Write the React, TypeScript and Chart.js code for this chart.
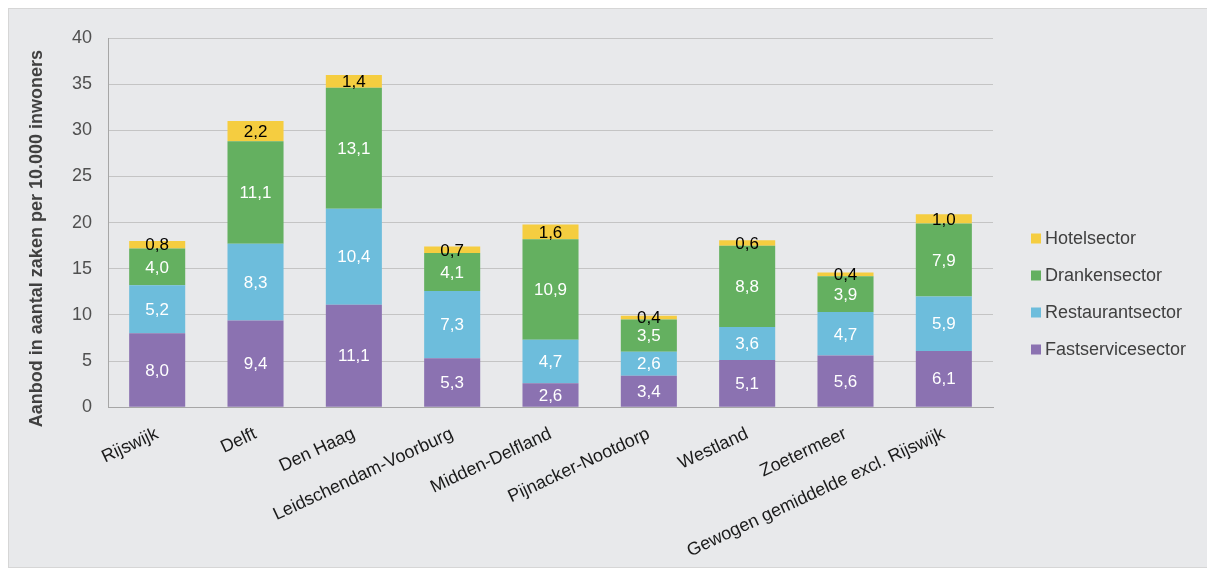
import React, { useEffect, useRef } from "react";
import { Chart, registerables } from "chart.js";

Chart.register(...registerables);

const categories = [
  "Rijswijk",
  "Delft",
  "Den Haag",
  "Leidschendam-Voorburg",
  "Midden-Delfland",
  "Pijnacker-Nootdorp",
  "Westland",
  "Zoetermeer",
  "Gewogen gemiddelde excl. Rijswijk",
];
const fastservice = [8.0, 9.4, 11.1, 5.3, 2.6, 3.4, 5.1, 5.6, 6.1];
const restaurant = [5.2, 8.3, 10.4, 7.3, 4.7, 2.6, 3.6, 4.7, 5.9];
const dranken = [4.0, 11.1, 13.1, 4.1, 10.9, 3.5, 8.8, 3.9, 7.9];
const hotel = [0.8, 2.2, 1.4, 0.7, 1.6, 0.4, 0.6, 0.4, 1.0];
const yTitle = "Aanbod in aantal zaken per 10.000 inwoners";

const FONT = "'Liberation Sans', Arial, sans-serif";

const labelPlugin = {
  id: "segLabels",
  afterDatasetsDraw(chart: any) {
    const ctx = chart.ctx;
    ctx.save();
    ctx.font = `17px ${FONT}`;
    ctx.textAlign = "center";
    ctx.textBaseline = "middle";
    chart.data.datasets.forEach((ds: any, di: number) => {
      const meta = chart.getDatasetMeta(di);
      if (meta.hidden) return;
      meta.data.forEach((bar: any, i: number) => {
        const v = ds.data[i];
        const p = bar.getProps(["x", "y", "base"], true);
        ctx.fillStyle = ds.labelColor;
        ctx.fillText(v.toFixed(1).replace(".", ","), p.x, (p.y + p.base) / 2 + 1);
      });
    });
    ctx.restore();
  },
};

const legendPlugin = {
  id: "sideLegend",
  afterDraw(chart: any) {
    const ctx = chart.ctx;
    const area = chart.chartArea;
    const items = chart.data.datasets.slice().reverse();
    const spacing = 37;
    const x = area.right + 38;
    const cy = chart.height / 2 + 6;
    const y0 = cy - ((items.length - 1) * spacing) / 2;
    ctx.save();
    ctx.font = `18px ${FONT}`;
    ctx.textBaseline = "middle";
    ctx.textAlign = "left";
    items.forEach((ds: any, i: number) => {
      const y = y0 + i * spacing;
      ctx.fillStyle = ds.backgroundColor;
      ctx.fillRect(x, y - 5, 10, 10);
      ctx.fillStyle = "#404040";
      ctx.fillText(ds.label, x + 14, y + 1);
    });
    ctx.restore();

    // y-axis title
    ctx.save();
    ctx.font = `bold 18px ${FONT}`;
    ctx.fillStyle = "#404040";
    ctx.textAlign = "center";
    ctx.textBaseline = "middle";
    ctx.translate(28, (area.top + area.bottom) / 2 + 16);
    ctx.rotate(-Math.PI / 2);
    ctx.fillText(yTitle, 0, 0);
    ctx.restore();
  },
};

export default function App() {
  const ref = useRef<HTMLCanvasElement>(null);
  useEffect(() => {
    const chart = new Chart(ref.current!, {
      type: "bar",
      data: {
        labels: categories,
        datasets: [
          { label: "Fastservicesector", data: fastservice, backgroundColor: "#8B72B1", labelColor: "#ffffff" } as any,
          { label: "Restaurantsector", data: restaurant, backgroundColor: "#6DBDDC", labelColor: "#ffffff" } as any,
          { label: "Drankensector", data: dranken, backgroundColor: "#64B060", labelColor: "#ffffff" } as any,
          { label: "Hotelsector", data: hotel, backgroundColor: "#F5CD40", labelColor: "#000000" } as any,
        ],
      },
      options: {
        animation: false,
        responsive: true,
        maintainAspectRatio: false,
        layout: { padding: { top: 29, left: 47, right: 214, bottom: -11 } },
        datasets: { bar: { barPercentage: 0.57, categoryPercentage: 1 } },
        plugins: {
          legend: { display: false },
          tooltip: { enabled: false },
        },
        scales: {
          x: {
            stacked: true,
            grid: { display: false, drawTicks: false },
            border: { display: true, color: "#A6A6A6", width: 1 },
            ticks: {
              color: "#1a1a1a",
              maxRotation: 25,
              minRotation: 25,
              autoSkip: false,
              padding: 16,
              font: { family: FONT, size: 18 },
            },
          },
          y: {
            stacked: true,
            min: 0,
            max: 40,
            grid: { color: "#C4C4C4", lineWidth: 1, drawTicks: false },
            border: { display: true, color: "#A6A6A6", width: 1 },
            ticks: {
              stepSize: 5,
              color: "#505050",
              padding: 16,
              font: { family: FONT, size: 18 },
            },
          },
        },
      },
      plugins: [labelPlugin, legendPlugin],
    } as any);
    return () => chart.destroy();
  }, []);
  return (
    <div
      style={{
        width: 1200,
        height: 560,
        background: "#E8E9EB",
        border: "1px solid #D6D6D6",
        boxSizing: "border-box",
        position: "relative",
      }}
    >
      <canvas ref={ref} />
    </div>
  );
}
